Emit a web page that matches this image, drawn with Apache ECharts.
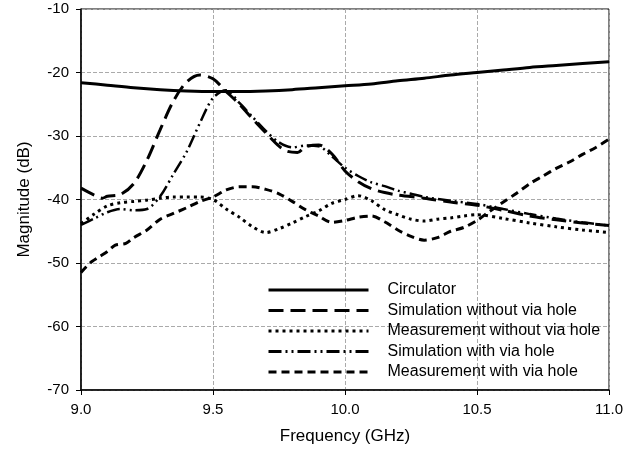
<!DOCTYPE html>
<html><head><meta charset="utf-8">
<script src="https://cdn.jsdelivr.net/npm/echarts@6/dist/echarts.min.js"></script>
<style>html,body{margin:0;padding:0;background:#fff}#c{width:636px;height:455px}</style>
</head><body><div id="c"></div>
<script>
var xTicks = [9.0, 9.5, 10.0, 10.5, 11.0];
var yTicks = [-70, -60, -50, -40, -30, -20, -10];
var seriesNames = ['Circulator', 'Simulation without via hole', 'Measurement without via hole', 'Simulation with via hole', 'Measurement with via hole'];

var circFreq = [9.0, 9.1, 9.2, 9.3, 9.4, 9.5, 9.6, 9.7, 9.8, 9.9, 10.0, 10.1, 10.2, 10.3, 10.4, 10.5, 10.6, 10.7, 10.8, 10.9, 11.0];
var circVal  = [-21.6, -22.0, -22.4, -22.7, -22.9, -23.0, -23.0, -22.9, -22.7, -22.4, -22.1, -21.8, -21.3, -20.9, -20.4, -20.0, -19.6, -19.2, -18.9, -18.6, -18.3];

var simNoFreq = [9.0, 9.05, 9.08, 9.1, 9.15, 9.2, 9.25, 9.3, 9.35, 9.4, 9.45, 9.5, 9.55, 9.6, 9.65, 9.7, 9.75, 9.78, 9.82, 9.85, 9.9, 9.95, 10.0, 10.05, 10.1, 10.15, 10.2, 10.3, 10.4, 10.5, 10.6, 10.7, 10.8, 10.9, 11.0];
var simNoVal  = [-38.2, -39.3, -39.8, -39.5, -39.2, -37.5, -33.8, -29.0, -24.5, -21.5, -20.4, -21.0, -23.0, -25.0, -27.3, -29.5, -31.6, -32.4, -32.6, -31.7, -31.4, -32.8, -35.5, -37.2, -38.3, -38.9, -39.3, -39.8, -40.4, -40.9, -41.7, -42.6, -43.2, -43.7, -44.1];

var measNoFreq = [9.0, 9.05, 9.1, 9.15, 9.2, 9.25, 9.3, 9.35, 9.4, 9.45, 9.5, 9.55, 9.6, 9.65, 9.7, 9.75, 9.8, 9.85, 9.9, 9.95, 10.0, 10.05, 10.1, 10.15, 10.2, 10.25, 10.3, 10.35, 10.4, 10.45, 10.5, 10.6, 10.7, 10.8, 10.9, 11.0];
var measNoVal  = [-43.8, -42.3, -41.0, -40.5, -40.3, -40.1, -39.8, -39.6, -39.6, -39.6, -40.0, -41.5, -42.8, -44.3, -45.2, -44.6, -43.7, -42.7, -41.8, -40.6, -40.0, -39.4, -40.2, -41.6, -42.4, -43.1, -43.4, -43.1, -42.9, -42.6, -42.4, -43.0, -43.7, -44.3, -44.8, -45.2];

var simViaFreq = [9.0, 9.05, 9.1, 9.15, 9.2, 9.25, 9.3, 9.35, 9.4, 9.45, 9.5, 9.55, 9.6, 9.65, 9.7, 9.75, 9.8, 9.85, 9.9, 9.95, 10.0, 10.05, 10.1, 10.15, 10.2, 10.25, 10.3, 10.4, 10.5, 10.6, 10.7, 10.8, 10.9, 11.0];
var simViaVal  = [-44.0, -43.0, -42.0, -41.5, -41.7, -41.5, -39.5, -36.0, -32.5, -28.0, -24.0, -22.8, -24.8, -27.0, -29.2, -31.0, -31.8, -31.5, -31.6, -33.2, -35.0, -36.3, -37.3, -37.9, -38.6, -39.1, -39.6, -40.2, -40.7, -41.5, -42.3, -43.0, -43.6, -44.1];

var measViaFreq = [9.0, 9.02, 9.04, 9.07, 9.1, 9.13, 9.17, 9.2, 9.25, 9.3, 9.35, 9.4, 9.45, 9.5, 9.55, 9.6, 9.65, 9.7, 9.75, 9.8, 9.85, 9.9, 9.95, 10.0, 10.05, 10.1, 10.15, 10.2, 10.25, 10.3, 10.35, 10.4, 10.45, 10.5, 10.55, 10.6, 10.65, 10.7, 10.75, 10.8, 10.85, 10.9, 10.95, 11.0];
var measViaVal  = [-51.5, -50.6, -49.8, -49.0, -48.2, -47.2, -46.9, -46.0, -44.8, -43.1, -42.2, -41.3, -40.3, -39.6, -38.5, -38.0, -38.0, -38.4, -39.1, -40.3, -41.6, -42.6, -43.6, -43.3, -42.8, -42.6, -43.5, -44.8, -45.8, -46.4, -46.0, -45.0, -44.4, -43.3, -41.8, -40.4, -39.0, -37.5, -36.3, -35.1, -34.1, -32.9, -31.8, -30.5];

function pairs(xs, ys) { return xs.map(function (x, i) { return [x, ys[i]]; }); }

var FONT = 'Arial, "Liberation Sans", sans-serif';
var styles = [
  { type: 'solid', width: 3 },
  { type: [15, 7], width: 3 },
  { type: [3, 4], width: 3 },
  { type: [13, 4, 2, 4, 2, 4], width: 2.5 },
  { type: [8, 5], width: 3 }
];
var dataSets = [pairs(circFreq, circVal), pairs(simNoFreq, simNoVal), pairs(measNoFreq, measNoVal), pairs(simViaFreq, simViaVal), pairs(measViaFreq, measViaVal)];

var chart = echarts.init(document.getElementById('c'), null, { renderer: 'canvas' });
chart.setOption({
  animation: false,
  backgroundColor: '#fff',
  grid: { left: 81, right: 27, top: 9, bottom: 65, show: true, borderColor: '#000', borderWidth: 1 },
  legend: {
    orient: 'vertical', left: 262, top: 277, itemWidth: 100, itemHeight: 14, itemGap: 4.5,
    itemStyle: { opacity: 0 },
    lineStyle: { width: 3 },
    textStyle: { fontFamily: FONT, fontSize: 16, color: '#000', padding: [0, 0, 0, 14] },
    data: seriesNames
  },
  xAxis: {
    type: 'value', min: 9, max: 11, interval: 0.5,
    name: 'Frequency (GHz)', nameLocation: 'middle', nameGap: 38,
    nameTextStyle: { fontFamily: FONT, fontSize: 17, color: '#000' },
    axisLine: { lineStyle: { color: '#000', width: 1.5 } },
    axisTick: { show: true, length: 5, inside: false, lineStyle: { color: '#000' } },
    axisLabel: { fontFamily: FONT, fontSize: 15, color: '#000', margin: 12, formatter: function (v) { return v.toFixed(1); } },
    splitLine: { show: true, lineStyle: { color: '#aaa', type: [4, 2], width: 1 } }
  },
  yAxis: {
    type: 'value', min: -70, max: -10, interval: 10,
    name: 'Magnitude (dB)', nameLocation: 'middle', nameGap: 48,
    nameTextStyle: { fontFamily: FONT, fontSize: 17, color: '#000' },
    axisLine: { show: true, lineStyle: { color: '#000', width: 1.5 } },
    axisTick: { show: true, length: 5, inside: false, lineStyle: { color: '#000' } },
    axisLabel: { fontFamily: FONT, fontSize: 15, color: '#000', margin: 12 },
    splitLine: { show: true, lineStyle: { color: '#aaa', type: [4, 2], width: 1 } }
  },
  series: seriesNames.map(function (n, i) {
    return {
      name: n, type: 'line', data: dataSets[i], showSymbol: false, symbol: 'none', smooth: 0.3,
      lineStyle: { color: '#000', width: styles[i].width, type: styles[i].type },
      itemStyle: { color: '#000' }, z: 5
    };
  })
});
</script>
</body></html>
